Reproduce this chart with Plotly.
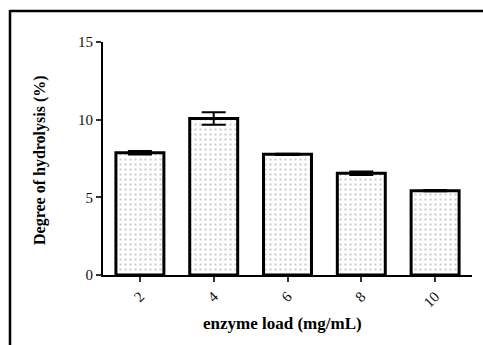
import plotly.graph_objects as go

categories = ["2", "4", "6", "8", "10"]
values = [7.87, 10.07, 7.77, 6.55, 5.43]
errors = [0.12, 0.40, 0.04, 0.12, 0.04]
y_ticks = [0, 5, 10, 15]

W, H = 483, 345
L, R, T, B = 103, 11, 42, 70
pw, ph = W - L - R, H - T - B

def px(x):
    return (x - L) / pw

def py(y):
    return (H - B - y) / ph

fig = go.Figure()
fig.add_trace(go.Bar(
    x=categories, y=values,
    marker=dict(color="white",
                line=dict(color="black", width=3),
                pattern=dict(shape=".", fgcolor="#a8a8a8", bgcolor="white",
                             size=5, solidity=0.2)),
    error_y=dict(type="data", array=errors, visible=True,
                 color="black", thickness=2, width=12),
))

font_serif = "Liberation Serif, Times New Roman, serif"
fig.update_layout(
    width=W, height=H,
    margin=dict(l=L, r=R, t=T, b=B, pad=0),
    paper_bgcolor="white", plot_bgcolor="white",
    showlegend=False, bargap=0.35,
    font=dict(family=font_serif, size=15, color="#111"),
    xaxis=dict(type="category", range=[-0.5, 4.5], showline=True,
               linecolor="black", linewidth=2, ticks="outside", ticklen=5,
               tickwidth=1.5, tickcolor="#333", tickangle=-45,
               showgrid=False, zeroline=False,
               tickfont=dict(family=font_serif, size=15, color="#111")),
    yaxis=dict(range=[0, 15], tickvals=y_ticks, showline=True,
               linecolor="black", linewidth=2, ticks="outside", ticklen=5,
               tickwidth=1.5, tickcolor="#333", showgrid=False,
               zeroline=False,
               tickfont=dict(family=font_serif, size=15, color="#111")),
    annotations=[
        dict(text="<b>Degree of hydrolysis (%)</b>", xref="paper", yref="paper",
             x=px(40), y=py(160), textangle=-90, showarrow=False,
             xanchor="center", yanchor="middle",
             font=dict(family=font_serif, size=16, color="#000")),
        dict(text="<b>enzyme load (mg/mL)</b>", xref="paper", yref="paper",
             x=px(282), y=py(323), showarrow=False,
             xanchor="center", yanchor="middle",
             font=dict(family=font_serif, size=17, color="#000")),
    ],
    shapes=[
        dict(type="line", xref="paper", yref="paper",
             x0=px(10), y0=py(11), x1=px(490), y1=py(11),
             line=dict(color="black", width=2.5)),
        dict(type="line", xref="paper", yref="paper",
             x0=px(10), y0=py(10), x1=px(10), y1=py(350),
             line=dict(color="black", width=2.5)),
    ],
)

fig.write_html("out.html")
